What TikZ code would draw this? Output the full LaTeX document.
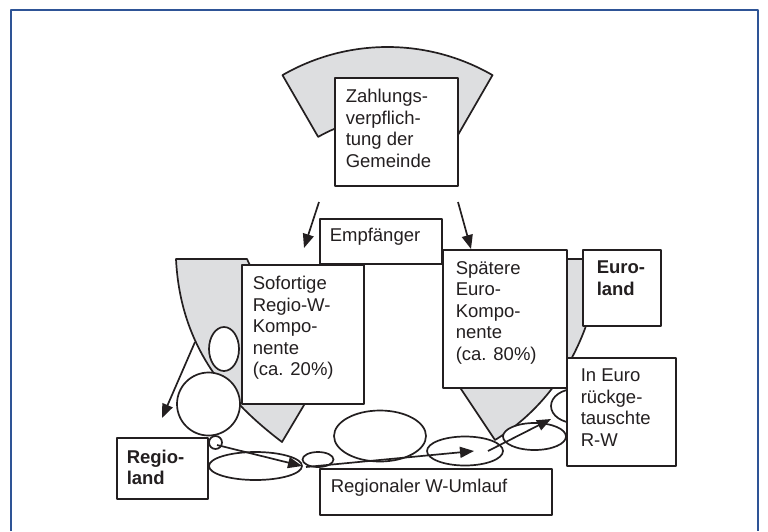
\documentclass[tikz,border=0pt]{standalone}
\usepackage{fontspec}
\setmainfont{Liberation Sans}
\usetikzlibrary{arrows.meta,calc}
\definecolor{rahmen}{RGB}{46,84,150}
\definecolor{grau}{RGB}{221,222,224}
\definecolor{strich}{RGB}{35,31,32}
% Breite, Hoehe, Rand links, Rand oben, Text
\newcommand\boxtext[5]{\parbox[t][#2pt][t]{#1pt}{\raggedright\leftskip=#3pt\vspace*{#4pt}#5}}
\begin{document}
\begin{tikzpicture}[x=1pt,y=-1pt,>={Triangle[length=14pt,width=11pt]},line join=round,
	font=\fontsize{18.5}{21.5}\selectfont,color=strich,
	box/.style={draw,line width=1.5pt,fill=white,inner sep=0pt,anchor=north west},
	form/.style={draw,line width=1.7pt},
	pfeil/.style={->,line width=1.7pt}]
	\useasboundingbox (0,0) rectangle (768,531);
	\draw[rahmen,line width=2pt] (11,531) -- (11,10) -- (758,10) -- (758,531);
	% Gemeinde oben
	\coordinate (m) at (387.5,257);
	\filldraw[form,fill=grau] ($(m)+(-120:210)$) arc[start angle=-120,end angle=-60,radius=210]
		-- ($(m)+(-60:138.7)$) arc[start angle=-60,end angle=-120,radius=138.7] -- cycle;
	\node[box] (zahl) at (334,77) {\boxtext{123}{108}{11}{11.5}{Zahlungs-\\verpflich-\\tung der\\Gemeinde}};
	% Trichter links und rechts
	\filldraw[form,fill=grau] (176,259) -- (247,259) -- (310,395) -- (282,442)
		.. controls (220,395) and (180,340) .. (176,259) -- cycle;
	\filldraw[form,fill=grau] (470,259) -- (600,259) .. controls (595,330) and (560,400) .. (495,440)
		-- (455,380) -- cycle;
	\draw[form,fill=white] (575,406) ellipse[x radius=24,y radius=17];
	\draw[form,fill=white] (224,349) ellipse[x radius=15,y radius=22];
	\draw[form,fill=white] (208.5,404) circle[radius=31.5];
	% Kaesten
	\node[box] (empf) at (319,218) {\boxtext{122}{45}{10}{9}{Empfänger}};
	\node[box] (sof) at (241,264) {\boxtext{122}{139}{11}{11.5}{Sofortige\\Regio-W-\\Kompo-\\nente\\(ca. 20\%)}};
	\node[box] (spaet) at (442,249) {\boxtext{124}{138}{13}{11.5}{Spätere\\Euro-\\Kompo-\\nente\\(ca. 80\%)}};
	\node[box] (euro) at (582,249) {\boxtext{78}{76}{14}{11.5}{\bfseries Euro-\\land}};
	\node[box] (rueck) at (566,357) {\boxtext{109}{108}{14}{11.5}{In Euro\\rückge-\\tauschte\\R-W}};
	\node[box] (regio) at (116,437) {\boxtext{91}{61}{10}{12}{\bfseries Regio-\\land}};
	\node[box] (umlauf) at (319,468) {\boxtext{232}{46}{11}{10.5}{Regionaler W-Umlauf}};
	% Umlauf unten
	\draw[form,fill=white] (215.5,442.5) circle[radius=6.5];
	\draw[form,fill=white] (255.5,466) ellipse[x radius=46.5,y radius=14];
	\draw[form,fill=white] (318,459.5) ellipse[x radius=15.5,y radius=7.5];
	\draw[form,fill=white] (380,436) ellipse[x radius=46,y radius=25.5];
	\draw[form,fill=white] (465,451) ellipse[x radius=38,y radius=14.5];
	\draw[form,fill=white] (534.5,436.5) ellipse[x radius=31.5,y radius=13.5];
	% Pfeile
	\coordinate (p1) at (319,202); \coordinate (q1) at (304,248);
	\coordinate (p2) at (458,202); \coordinate (q2) at (471,249);
	\coordinate (p3) at (195,342); \coordinate (q3) at (162,418);
	\coordinate (p4) at (217,445); \coordinate (q4) at (302,466);
	\coordinate (p5) at (306,467); \coordinate (q5) at (474,451);
	\coordinate (p6) at (488,451); \coordinate (q6) at (551,419);
	\foreach \i in {1,...,6} \draw[pfeil] (p\i) -- (q\i);
\end{tikzpicture}
\end{document}
